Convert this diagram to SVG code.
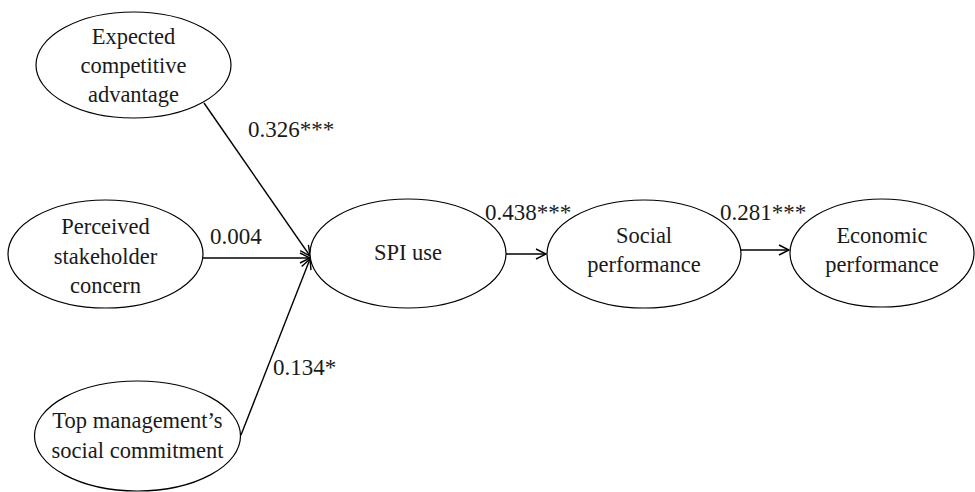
<svg xmlns="http://www.w3.org/2000/svg" width="975" height="492" viewBox="0 0 975 492">
  <style>
    .node ellipse { fill: #ffffff; stroke: #000000; stroke-width: 1.2; }
    text { font-family: "Liberation Serif", "Times New Roman", serif; font-size: 22.5px; fill: #1a1a1a; }
    .node text { text-anchor: middle; }
    .coef { font-size: 23px; }
    .edge { stroke: #000000; stroke-width: 1.4; fill: none; marker-end: url(#arrow); }
  </style>
  <defs>
    <marker id="arrow" viewBox="0 0 12 12" refX="11" refY="6" markerWidth="12" markerHeight="12" markerUnits="userSpaceOnUse" orient="auto">
      <path d="M1,1 L11,6 L1,11" fill="none" stroke="#000000" stroke-width="1.4"/>
    </marker>
  </defs>

  <rect width="975" height="492" fill="#ffffff"/>

  <!-- connectors and path coefficients -->
  <g id="connectors">
    <line class="edge" x1="204" y1="103" x2="310" y2="256"/>
    <line class="edge" x1="203" y1="258" x2="310" y2="258"/>
    <line class="edge" x1="241" y1="435" x2="310" y2="259"/>
    <line class="edge" x1="506" y1="254" x2="546" y2="254"/>
    <line class="edge" x1="741" y1="250" x2="789" y2="250"/>
    <text class="coef" x="248" y="137">0.326***</text>
    <text class="coef" x="210" y="244">0.004</text>
    <text class="coef" x="273" y="375">0.134*</text>
    <text class="coef" x="485" y="220">0.438***</text>
    <text class="coef" x="720" y="220">0.281***</text>
  </g>

  <g id="expected-competitive-advantage" class="node">
    <ellipse cx="133.5" cy="65" rx="97.5" ry="53"/>
    <text x="133.5" y="44">Expected</text>
    <text x="133.5" y="73">competitive</text>
    <text x="133.5" y="102">advantage</text>
  </g>

  <g id="perceived-stakeholder-concern" class="node">
    <ellipse cx="105.5" cy="254" rx="97.5" ry="54"/>
    <text x="105.5" y="234">Perceived</text>
    <text x="105.5" y="264">stakeholder</text>
    <text x="105.5" y="293">concern</text>
  </g>

  <g id="top-management-social-commitment" class="node">
    <ellipse cx="137.5" cy="436" rx="103" ry="55"/>
    <text x="137.5" y="428">Top management’s</text>
    <text x="137.5" y="458">social commitment</text>
  </g>

  <g id="spi-use" class="node">
    <ellipse cx="408" cy="253.5" rx="98" ry="54.5"/>
    <text x="408" y="260">SPI use</text>
  </g>

  <g id="social-performance" class="node">
    <ellipse cx="644" cy="254" rx="97" ry="54"/>
    <text x="644" y="243">Social</text>
    <text x="644" y="272">performance</text>
  </g>

  <g id="economic-performance" class="node">
    <ellipse cx="882" cy="253" rx="92" ry="54"/>
    <text x="882" y="243">Economic</text>
    <text x="882" y="272">performance</text>
  </g>
</svg>
